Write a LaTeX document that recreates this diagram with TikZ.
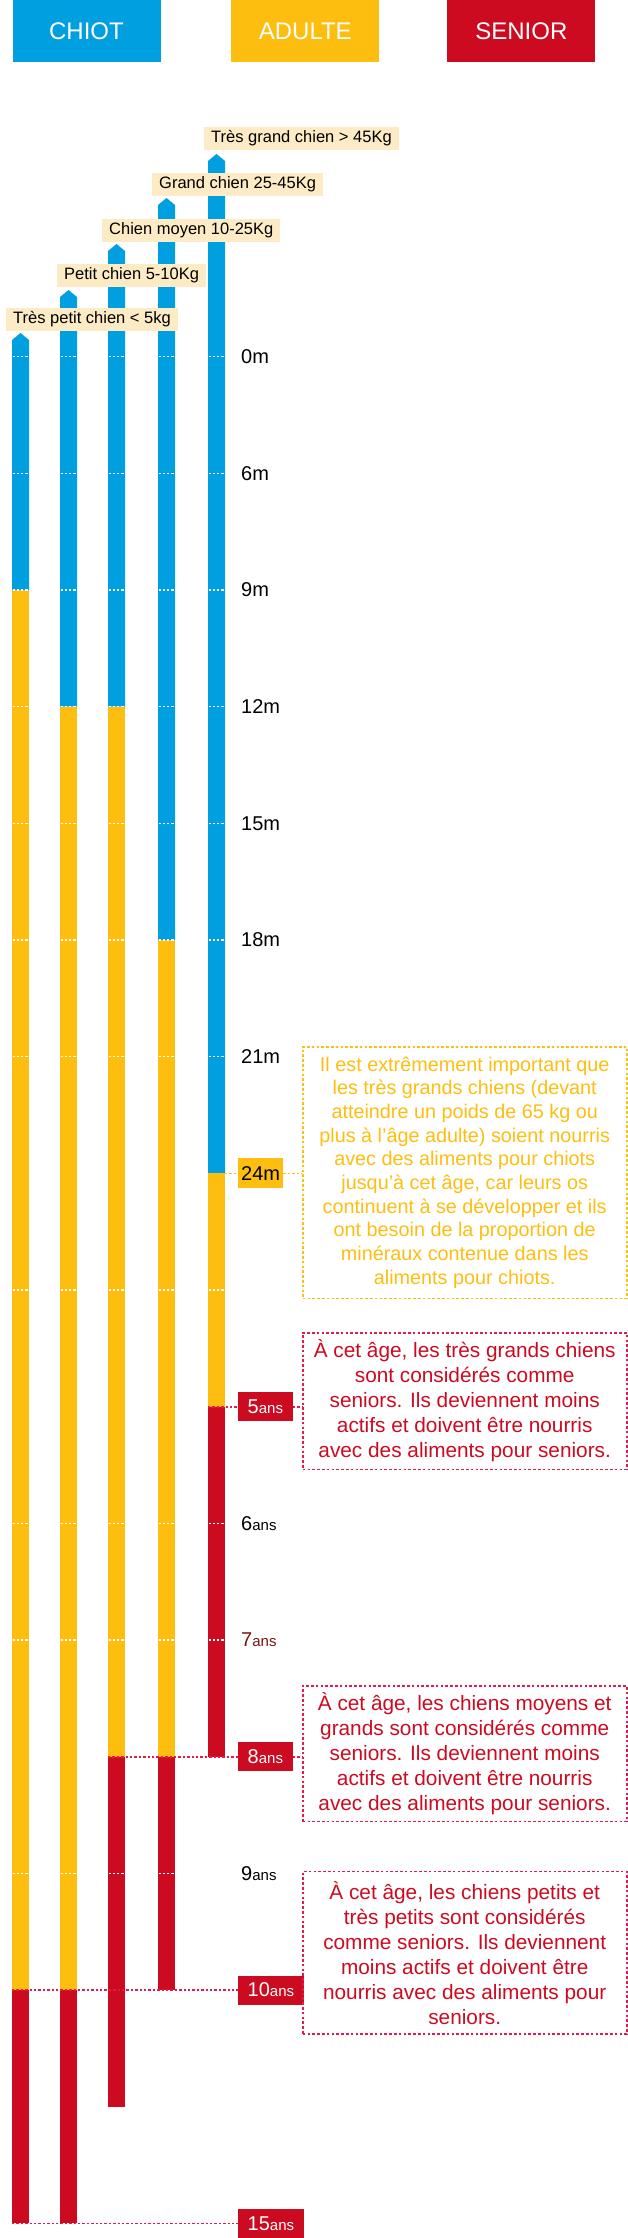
\documentclass[tikz,border=0pt]{standalone}
\usepackage{fontspec}
\setmainfont{Liberation Sans}
\usepackage{xcolor}
\usepackage{tikz}
\definecolor{pup}{HTML}{009FDF}
\definecolor{adult}{HTML}{FDBE10}
\definecolor{old}{HTML}{CC0A20}
\definecolor{rose}{HTML}{E6194B}
\definecolor{cream}{HTML}{FDEBC5}
\definecolor{wine}{HTML}{7A1515}
\newcommand{\ansx}{{\fontsize{15}{15}\selectfont ans}}
\tikzset{head/.style={fill=#1,text=white,minimum width=148pt,minimum height=62pt,inner sep=0pt,font=\fontsize{24}{24}\selectfont},
  dog/.style={fill=cream,anchor=south west,inner xsep=7pt,inner ysep=0pt,minimum height=23pt,font=\fontsize{16.5}{16.5}\selectfont},
  age/.style={anchor=west,inner sep=0pt,font=\fontsize{20}{20}\selectfont},
  ybox/.style={fill=adult,anchor=west,inner xsep=3pt,inner ysep=0pt,minimum height=30pt,font=\fontsize{20}{20}\selectfont},
  rbox/.style={fill=old,text=white,anchor=west,inner xsep=9.5pt,inner ysep=0pt,minimum height=29pt,font=\fontsize{20}{20}\selectfont},
  ynote/.style={draw=adult,text=adult,line width=1.6pt,dash pattern=on 2.6pt off 2.2pt,align=center,minimum width=324pt,inner sep=0pt,font=\fontsize{19.8}{23.7}\selectfont},
  rnote/.style={draw=rose,text=old,line width=1.6pt,dash pattern=on 2.6pt off 2.2pt,align=center,minimum width=324pt,inner sep=0pt,font=\fontsize{20.8}{25}\selectfont},
  ydots/.style={draw=adult,line width=1.6pt,dash pattern=on 2.4pt off 2pt},
  rdots/.style={draw=rose,line width=1.6pt,dash pattern=on 2.4pt off 2pt},
  wdots/.style={draw=white,line width=1.4pt,dash pattern=on 2.4pt off 1.8pt}}

\begin{document}
\begin{tikzpicture}[x=1pt,y=-1pt]
    \useasboundingbox (0,0) rectangle (628,2238);

    \node[head=pup] (chiot)at (86.5,31) {CHIOT};
    \node[head=adult] (adulte)at (305.3,31) {ADULTE};
    \node[head=old] (senior)at (521.4,31) {SENIOR};

    \fill[pup] (12,590) -- (12,340) -- (20.5,333) -- (29,340) -- (29,590) -- cycle;
    \fill[adult] (12,590) rectangle (29,1990);
    \fill[old] (12,1990) rectangle (29,2223.3);
    \fill[pup] (60,706.7) -- (60,297) -- (68.5,290) -- (77,297) -- (77,706.7) -- cycle;
    \fill[adult] (60,706.7) rectangle (77,1990);
    \fill[old] (60,1990) rectangle (77,2223.3);
    \fill[pup] (108,706.7) -- (108,251) -- (116.5,244) -- (125,251) -- (125,706.7) -- cycle;
    \fill[adult] (108,706.7) rectangle (125,1756.7);
    \fill[old] (108,1756.7) rectangle (125,2106.7);
    \fill[pup] (158,940) -- (158,205) -- (166.5,198) -- (175,205) -- (175,940) -- cycle;
    \fill[adult] (158,940) rectangle (175,1756.7);
    \fill[old] (158,1756.7) rectangle (175,1990);
    \fill[pup] (208,1173.3) -- (208,161) -- (216.5,154) -- (225,161) -- (225,1173.3) -- cycle;
    \fill[adult] (208,1173.3) rectangle (225,1406.7);
    \fill[old] (208,1406.7) rectangle (225,1756.7);

    \draw [wdots] (12.5,356.7) -- (29,356.7) (60.5,356.7) -- (77,356.7) (108.5,356.7) -- (125,356.7) (158.5,356.7) -- (175,356.7) (208.5,356.7) -- (225,356.7);
    \draw [wdots] (12.5,473.3) -- (29,473.3) (60.5,473.3) -- (77,473.3) (108.5,473.3) -- (125,473.3) (158.5,473.3) -- (175,473.3) (208.5,473.3) -- (225,473.3);
    \draw [wdots] (12.5,590) -- (29,590) (60.5,590) -- (77,590) (108.5,590) -- (125,590) (158.5,590) -- (175,590) (208.5,590) -- (225,590);
    \draw [wdots] (12.5,706.7) -- (29,706.7) (60.5,706.7) -- (77,706.7) (108.5,706.7) -- (125,706.7) (158.5,706.7) -- (175,706.7) (208.5,706.7) -- (225,706.7);
    \draw [wdots] (12.5,823.3) -- (29,823.3) (60.5,823.3) -- (77,823.3) (108.5,823.3) -- (125,823.3) (158.5,823.3) -- (175,823.3) (208.5,823.3) -- (225,823.3);
    \draw [wdots] (12.5,940) -- (29,940) (60.5,940) -- (77,940) (108.5,940) -- (125,940) (158.5,940) -- (175,940) (208.5,940) -- (225,940);
    \draw [wdots] (12.5,1056.7) -- (29,1056.7) (60.5,1056.7) -- (77,1056.7) (108.5,1056.7) -- (125,1056.7) (158.5,1056.7) -- (175,1056.7) (208.5,1056.7) -- (225,1056.7);
    \draw [wdots] (12.5,1290) -- (29,1290) (60.5,1290) -- (77,1290) (108.5,1290) -- (125,1290) (158.5,1290) -- (175,1290) (208.5,1290) -- (225,1290);
    \draw [wdots] (12.5,1523.3) -- (29,1523.3) (60.5,1523.3) -- (77,1523.3) (108.5,1523.3) -- (125,1523.3) (158.5,1523.3) -- (175,1523.3) (208.5,1523.3) -- (225,1523.3);
    \draw [wdots] (12.5,1640) -- (29,1640) (60.5,1640) -- (77,1640) (108.5,1640) -- (125,1640) (158.5,1640) -- (175,1640) (208.5,1640) -- (225,1640);
    \draw [wdots] (12.5,1873.3) -- (29,1873.3) (60.5,1873.3) -- (77,1873.3) (108.5,1873.3) -- (125,1873.3) (158.5,1873.3) -- (175,1873.3);

    \node[dog] (tpc)at (6,331) {Très petit chien < 5kg};
    \node[dog] (pc)at (57,287) {Petit chien 5-10Kg};
    \node[dog] (cm)at (102,242) {Chien moyen 10-25Kg};
    \node[dog] (gc)at (152,196) {Grand chien 25-45Kg};
    \node[dog] (tgc)at (204,150) {Très grand chien > 45Kg};

    \node[age] (m0)at (241,356.7) {0m};
    \node[age] (m6)at (241,473.3) {6m};
    \node[age] (m9)at (241,590) {9m};
    \node[age] (m12)at (241,706.7) {12m};
    \node[age] (m15)at (241,823.3) {15m};
    \node[age] (m18)at (241,940) {18m};
    \node[age] (m21)at (241,1056.7) {21m};
    \node[age] (a6)at (241,1523.3) {6\ansx};
    \node[age,text=wine] (a7)at (241,1640) {7\ansx};
    \node[age] (a9)at (241,1873.3) {9\ansx};

    \node[ybox] (t24)at (238,1173.3) {24m};
    \node[rbox] (t5)at (238,1406.7) {5\ansx};
    \node[rbox] (t8)at (238,1756.7) {8\ansx};
    \node[rbox] (t10)at (238,1990) {10\ansx};
    \node[rbox] (t15)at (238,2223.3) {15\ansx};

    \node[ynote,minimum height=251.6pt] (n24)at (464.7,1172.5) {Il est extrêmement important que\\les très grands chiens (devant\\atteindre un poids de 65 kg ou\\plus à l’âge adulte) soient nourris\\avec des aliments pour chiots\\jusqu’à cet âge, car leurs os\\continuent à se développer et ils\\ont besoin de la proportion de\\minéraux contenue dans les\\aliments pour chiots.};
    \node[rnote,minimum height=136.6pt] (n5)at (464.7,1401) {À cet âge, les très grands chiens\\sont considérés comme\\seniors. Ils deviennent moins\\actifs et doivent être nourris\\avec des aliments pour seniors.};
    \node[rnote,minimum height=135.7pt] (n8)at (464.7,1753.8) {À cet âge, les chiens moyens et\\grands sont considérés comme\\seniors. Ils deviennent moins\\actifs et doivent être nourris\\avec des aliments pour seniors.};
    \node[rnote,minimum height=162.3pt] (n10)at (464.7,1952.8) {À cet âge, les chiens petits et\\très petits sont considérés\\comme seniors. Ils deviennent\\moins actifs et doivent être\\nourris avec des aliments pour\\seniors.};

    \coordinate (p24) at (225,1173.3);
    \coordinate (p5) at (208,1406.7);
    \coordinate (p8) at (108,1756.7);
    \coordinate (p10) at (12,1990);
    \coordinate (p15) at (12,2223.3);

    \draw [ydots] (p24) to [] (t24.west);
    \draw [ydots] (t24.east) to [] (t24.east -| n24.west);
    \draw [rdots] (p5) to [] (t5.west);
    \draw [rdots] (t5.east) to [] (t5.east -| n5.west);
    \draw [rdots] (p8) to [] (t8.west);
    \draw [rdots] (t8.east) to [] (t8.east -| n8.west);
    \draw [rdots] (p10) to [] (t10.west);
    \draw [rdots] (t10.east) to [] (t10.east -| n10.west);
    \draw [rdots] (p15) to [] (t15.west);
\end{tikzpicture}
\end{document}
